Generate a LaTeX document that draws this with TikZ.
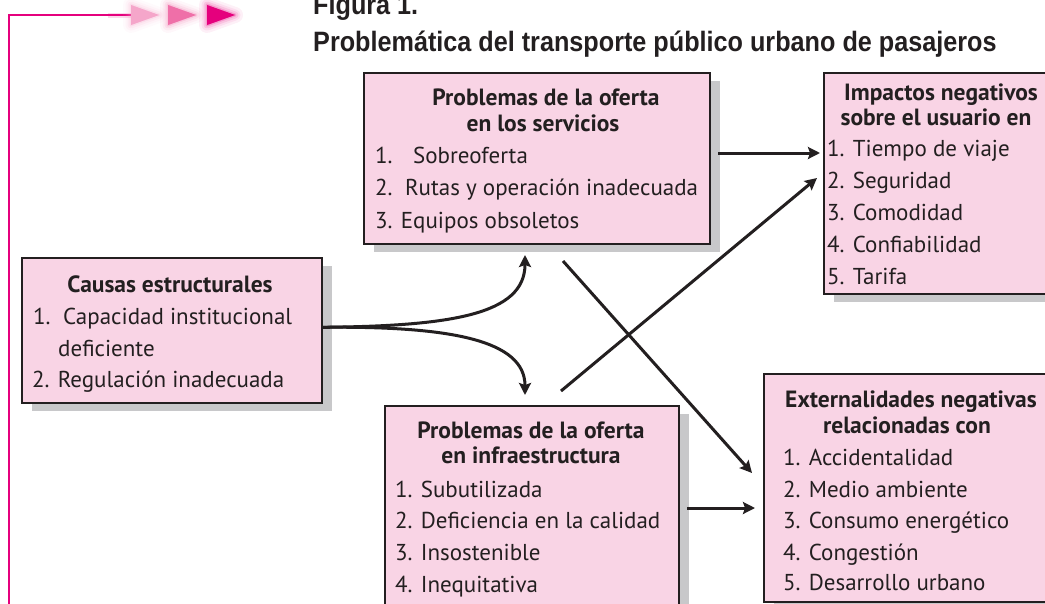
\documentclass[tikz,border=0pt]{standalone}
\usepackage{fontspec}
\usepackage{graphicx}
\setmainfont{PT Sans}
\newfontfamily\titlefont{Liberation Sans}
\usetikzlibrary{arrows.meta,shadows}
\definecolor{boxpink}{HTML}{F9D4E5}
\definecolor{ink}{HTML}{231F20}
\definecolor{shade}{HTML}{C8C8CA}
\definecolor{mag}{HTML}{E5007D}
\definecolor{magmid}{HTML}{EF6FA8}
\definecolor{maglight}{HTML}{F5A6CA}
\begin{document}
\begin{tikzpicture}[x=1pt,y=-1pt,
  box/.style={draw=ink, line width=1.6pt, fill=boxpink, inner sep=0pt, anchor=north west,
    drop shadow={shadow xshift=10pt, shadow yshift=-8pt, fill=shade, opacity=1}},
  head/.style={font=\fontsize{23.5}{26}\selectfont\bfseries, text=ink, anchor=base, inner sep=0pt},
  item/.style={font=\fontsize{23}{26}\selectfont, text=ink, anchor=base west, inner sep=0pt},
  conn/.style={draw=ink, line width=3pt, -{Stealth[length=12pt,width=12pt,inset=2pt]}},
  titletext/.style={anchor=base west, inner sep=0pt, text=ink},
  glow/.style={line join=round, draw=#1, fill=#1}
]
\useasboundingbox (0,0) rectangle (1045,603);
\clip (0,0) rectangle (1045,603);

% pink frame line and arrows
\draw[mag!60, line width=5pt, opacity=0.25] (108,15) -- (131,15);
\draw[mag, line width=1.3pt] (9,610) -- (9,15) -- (131,15);
\foreach \x/\c in {131/maglight,168/magmid,207/mag}{
  \foreach \w/\o in {16/0.06,11/0.08,7/0.12,3/0.2}{
    \draw[glow=\c, line width=\w pt, opacity=\o] (\x,5) -- (\x,25) -- (\x+28,15) -- cycle;
  }
  \fill[\c] (\x,5) -- (\x,25) -- (\x+28,15) -- cycle;
}

% title
\node[titletext] (fig) at (313,14) {\scalebox{0.9}[1]{\titlefont\bfseries\fontsize{28}{30}\selectfont Figura 1.}};
\node[titletext] (title) at (313,51) {\scalebox{0.9}[1]{\titlefont\bfseries\fontsize{28}{30}\selectfont Problemática del transporte público urbano de pasajeros}};

% boxes
\node[box, minimum width=300pt, minimum height=145pt] (A) at (21,257) {};
\node[box, minimum width=346pt, minimum height=171pt] (B) at (363,72) {};
\node[box, minimum width=230pt, minimum height=221pt] (C) at (823,72) {};
\node[box, minimum width=294pt, minimum height=215pt] (D) at (384,405) {};
\node[box, minimum width=290pt, minimum height=228pt] (E) at (763,373) {};

% box A text
\node[head] (a0) at (170,292) {Causas estructurales};
\node[item] (a1) at (33,324) {\makebox[30pt][l]{1.}Capacidad institucional};
\node[item] (a2) at (58,356) {deficiente};
\node[item] (a3) at (32,387) {2. Regulación inadecuada};

% box B text
\node[head] (b0) at (546,105) {Problemas de la oferta};
\node[head] (b1) at (543,131) {en los servicios};
\node[item] (b2) at (375,163) {\makebox[38pt][l]{1.}Sobreoferta};
\node[item] (b3) at (375,195) {\makebox[30pt][l]{2.}Rutas y operación inadecuada};
\node[item] (b4) at (375,228) {3. Equipos obsoletos};

% box C text
\node[head] (c0) at (941,100) {Impactos negativos};
\node[head] (c1) at (936,125) {sobre el usuario en};
\node[item] (c2) at (827,156) {1. Tiempo de viaje};
\node[item] (c3) at (827,188) {2. Seguridad};
\node[item] (c4) at (827,220) {3. Comodidad};
\node[item] (c5) at (827,252) {4. Confiabilidad};
\node[item] (c6) at (827,284) {5. Tarifa};

% box D text
\node[head] (d0) at (531,438) {Problemas de la oferta};
\node[head] (d1) at (531,463) {en infraestructura};
\node[item] (d2) at (395,497) {1. Subutilizada};
\node[item] (d3) at (395,528) {2. Deficiencia en la calidad};
\node[item] (d4) at (395,560) {3. Insostenible};
\node[item] (d5) at (395,592) {4. Inequitativa};

% box E text
\node[head] (e0) at (911,407) {Externalidades negativas};
\node[head] (e1) at (907,433) {relacionadas con};
\node[item] (e2) at (783,465) {1. Accidentalidad};
\node[item] (e3) at (783,497) {2. Medio ambiente};
\node[item] (e4) at (783,528) {3. Consumo energético};
\node[item] (e5) at (783,560) {4. Congestión};
\node[item] (e6) at (783,590) {5. Desarrollo urbano};

% connector ends
\coordinate (aout) at ([yshift=3pt]A.east);
\coordinate (bin) at (525,255);
\coordinate (din) at (525,395);
\coordinate (bout) at (718,153);
\coordinate (cin1) at (820,153);
\coordinate (dout1) at (561,391);
\coordinate (cin2) at (817,178);
\coordinate (bout2) at (563,261);
\coordinate (ein1) at (752,473);
\coordinate (dout2) at (687,508);
\coordinate (ein2) at (755,508);

\draw[conn] (aout) .. controls (450,326) and (525,315) .. (bin);
\draw[conn] (aout) .. controls (450,326) and (525,340) .. (din);
\draw[conn] (bout) -- (cin1);
\draw[conn] (dout1) -- (cin2);
\draw[conn] (bout2) -- (ein1);
\draw[conn] (dout2) -- (ein2);
\end{tikzpicture}
\end{document}
